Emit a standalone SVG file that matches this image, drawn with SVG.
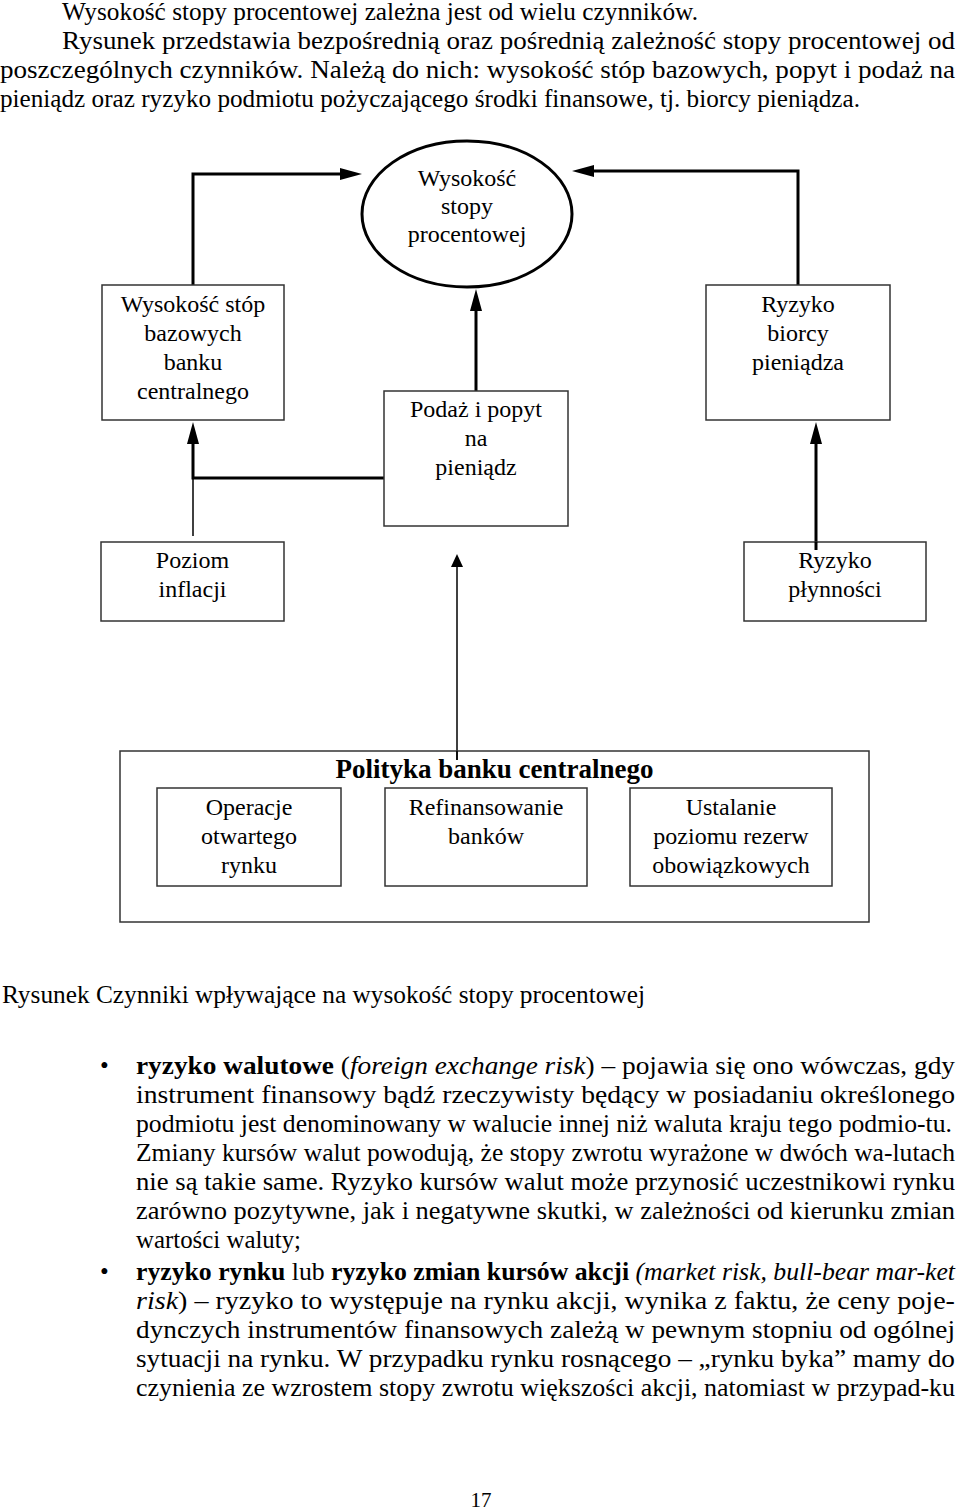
<svg xmlns="http://www.w3.org/2000/svg" width="960" height="1509" viewBox="0 0 960 1509">
<style>
.t{font-family:"Liberation Serif","Times New Roman",serif;fill:#000}
.p{font-size:25px}
.d{font-size:24px;text-anchor:middle}
.b{font-weight:bold}
.i{font-style:italic}
.box{fill:#fff;stroke:#333;stroke-width:1.5}
.thick{fill:none;stroke:#000;stroke-width:3}
.thin{fill:none;stroke:#000;stroke-width:1.5}
</style>
<defs>
<marker id="ah" markerUnits="userSpaceOnUse" markerWidth="24" markerHeight="12" refX="12" refY="6" orient="auto" overflow="visible"><path d="M0,0 L22,6 L0,12 z" fill="#000"/></marker>
<marker id="ahs" markerUnits="userSpaceOnUse" markerWidth="14" markerHeight="12" refX="5" refY="6" orient="auto" overflow="visible"><path d="M0,0 L13,6 L0,12 z" fill="#000"/></marker>
</defs>
<rect width="960" height="1509" fill="#fff"/>

<g id="intro" class="t p">
<text x="62" y="20" textLength="636" lengthAdjust="spacingAndGlyphs">Wysokość stopy procentowej zależna jest od wielu czynników.</text>
<text x="62" y="49" textLength="893" lengthAdjust="spacingAndGlyphs">Rysunek przedstawia bezpośrednią oraz pośrednią zależność stopy procentowej od</text>
<text x="0" y="78" textLength="955" lengthAdjust="spacingAndGlyphs">poszczególnych czynników. Należą do nich: wysokość stóp bazowych, popyt i podaż na</text>
<text x="0" y="107" textLength="860" lengthAdjust="spacingAndGlyphs">pieniądz oraz ryzyko podmiotu pożyczającego środki finansowe, tj. biorcy pieniądza.</text>
</g>

<g id="connectors">
<path class="thick" d="M193,285 V174 H352" marker-end="url(#ah)"/>
<path class="thick" d="M798,285 V171 H582" marker-end="url(#ah)"/>
<path class="thick" d="M476,391 V299" marker-end="url(#ah)"/>
<path class="thick" d="M384,478 H193 V432" marker-end="url(#ah)"/>
<path class="thin" d="M193,478 V536"/>
<path class="thick" d="M816,550 V432" marker-end="url(#ah)"/>
<path class="thin" d="M457,760 V562" marker-end="url(#ahs)"/>
</g>

<g id="stopa">
<ellipse cx="467" cy="214" rx="105" ry="73" fill="none" stroke="#000" stroke-width="3"/>
<text class="t d" x="467" y="186">Wysokość</text>
<text class="t d" x="467" y="214">stopy</text>
<text class="t d" x="467" y="242">procentowej</text>
</g>

<g id="stopy-bazowe">
<rect class="box" x="102" y="285" width="182" height="135"/>
<text class="t d" x="193" y="312">Wysokość stóp</text>
<text class="t d" x="193" y="341">bazowych</text>
<text class="t d" x="193" y="370">banku</text>
<text class="t d" x="193" y="399">centralnego</text>
</g>

<g id="podaz-popyt">
<rect class="box" x="384" y="391" width="184" height="135"/>
<text class="t d" x="476" y="417">Podaż i popyt</text>
<text class="t d" x="476" y="446">na</text>
<text class="t d" x="476" y="475">pieniądz</text>
</g>

<g id="ryzyko-biorcy">
<rect class="box" x="706" y="285" width="184" height="135"/>
<text class="t d" x="798" y="312">Ryzyko</text>
<text class="t d" x="798" y="341">biorcy</text>
<text class="t d" x="798" y="370">pieniądza</text>
</g>

<g id="inflacja">
<rect class="box" x="101" y="542" width="183" height="79"/>
<text class="t d" x="192.5" y="568">Poziom</text>
<text class="t d" x="192.5" y="597">inflacji</text>
</g>

<g id="plynnosc">
<rect class="box" x="744" y="542" width="182" height="79"/>
<text class="t d" x="835" y="568">Ryzyko</text>
<text class="t d" x="835" y="597">płynności</text>
<path class="thick" d="M816,542 V550"/>
</g>

<g id="polityka">
<rect class="box" x="120" y="751" width="749" height="171" style="fill:none"/>
<path class="thin" d="M457,751 V760"/>
<text class="t b" x="494.5" y="778" font-size="27" text-anchor="middle">Polityka banku centralnego</text>
</g>

<g id="operacje">
<rect class="box" x="157" y="788" width="184" height="98"/>
<text class="t d" x="249" y="815">Operacje</text>
<text class="t d" x="249" y="844">otwartego</text>
<text class="t d" x="249" y="873">rynku</text>
</g>

<g id="refinansowanie">
<rect class="box" x="385" y="788" width="202" height="98"/>
<text class="t d" x="486" y="815">Refinansowanie</text>
<text class="t d" x="486" y="844">banków</text>
</g>

<g id="rezerwy">
<rect class="box" x="630" y="788" width="202" height="98"/>
<text class="t d" x="731" y="815">Ustalanie</text>
<text class="t d" x="731" y="844">poziomu rezerw</text>
<text class="t d" x="731" y="873">obowiązkowych</text>
</g>

<g id="body" class="t p">
<text x="2" y="1003" textLength="643" lengthAdjust="spacingAndGlyphs">Rysunek Czynniki wpływające na wysokość stopy procentowej</text>
<text x="100" y="1074">•</text>
<text x="136" y="1074" textLength="819" lengthAdjust="spacingAndGlyphs"><tspan class="b">ryzyko walutowe</tspan> (<tspan class="i">foreign exchange risk</tspan>) – pojawia się ono wówczas, gdy</text>
<text x="136" y="1103" textLength="819" lengthAdjust="spacingAndGlyphs">instrument finansowy bądź rzeczywisty będący w posiadaniu określonego</text>
<text x="136" y="1132" textLength="816" lengthAdjust="spacingAndGlyphs">podmiotu jest denominowany w walucie innej niż waluta kraju tego podmio-tu.</text>
<text x="136" y="1161" textLength="819" lengthAdjust="spacingAndGlyphs">Zmiany kursów walut powodują, że stopy zwrotu wyrażone w dwóch wa-lutach</text>
<text x="136" y="1190" textLength="819" lengthAdjust="spacingAndGlyphs">nie są takie same. Ryzyko kursów walut może przynosić uczestnikowi rynku</text>
<text x="136" y="1219" textLength="819" lengthAdjust="spacingAndGlyphs">zarówno pozytywne, jak i negatywne skutki, w zależności od kierunku zmian</text>
<text x="136" y="1248" textLength="165" lengthAdjust="spacingAndGlyphs">wartości waluty;</text>
<text x="100" y="1280">•</text>
<text x="136" y="1280" textLength="819" lengthAdjust="spacingAndGlyphs"><tspan class="b">ryzyko rynku</tspan> lub <tspan class="b">ryzyko zmian kursów akcji</tspan> <tspan class="i">(market risk, bull-bear mar-ket</tspan></text>
<text x="136" y="1309" textLength="819" lengthAdjust="spacingAndGlyphs"><tspan class="i">risk</tspan>) – ryzyko to występuje na rynku akcji, wynika z faktu, że ceny poje-</text>
<text x="136" y="1338" textLength="819" lengthAdjust="spacingAndGlyphs">dynczych instrumentów finansowych zależą w pewnym stopniu od ogólnej</text>
<text x="136" y="1367" textLength="819" lengthAdjust="spacingAndGlyphs">sytuacji na rynku. W przypadku rynku rosnącego – „rynku byka” mamy do</text>
<text x="136" y="1396" textLength="819" lengthAdjust="spacingAndGlyphs">czynienia ze wzrostem stopy zwrotu większości akcji, natomiast w przypad-ku</text>
<text x="481" y="1507" font-size="21" text-anchor="middle">17</text>
</g>
</svg>
